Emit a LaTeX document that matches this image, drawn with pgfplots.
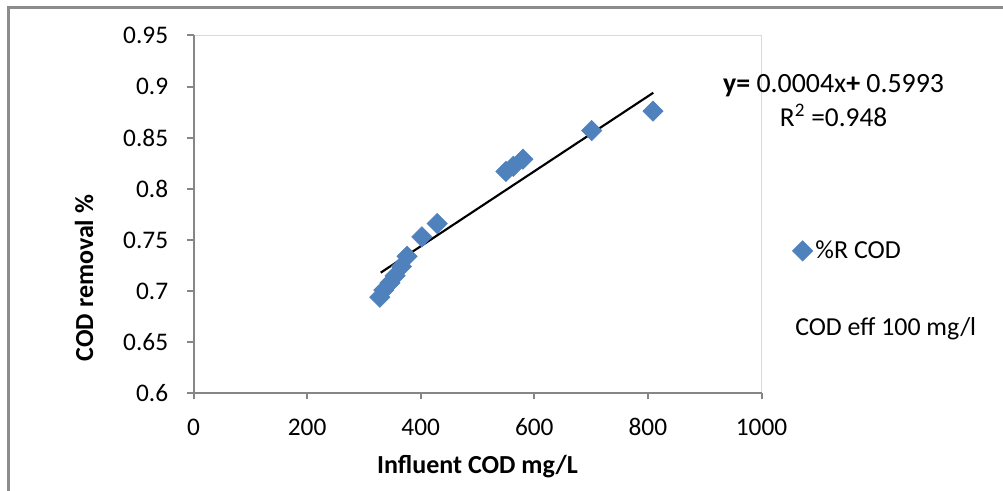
\documentclass[border=0pt]{standalone}
\usepackage{fontspec}
\setmainfont{Carlito}
\usepackage{pgfplots}
\pgfplotsset{compat=1.18}
\definecolor{xlblue}{HTML}{4F81BD}
\definecolor{axgrey}{HTML}{868686}
\definecolor{boxgrey}{HTML}{D9D9D9}
\definecolor{framegrey}{HTML}{8C8C8C}
\begin{document}
\begin{tikzpicture}[x=0.75pt,y=0.75pt]
\useasboundingbox (0,0) rectangle (1003,491);
\draw[framegrey, line width=2.25pt] (8,-5) -- (8,483) -- (1010,483);
\begin{axis}[
  at={(145.125pt,73.275pt)}, anchor=south west,
  scale only axis, width=426pt, height=268.35pt,
  xmin=0, xmax=1000, ymin=0.6, ymax=0.95,
  xtick={0,200,400,600,800,1000},
  ytick={0.6,0.65,0.7,0.75,0.8,0.85,0.9,0.95},
  axis x line=bottom, axis y line=left,
  axis line style={axgrey, line width=1.5pt, -},
  axis background/.style={draw=boxgrey, line width=0.75pt},
  tick align=outside, major tick length=4.5pt,
  every tick/.style={axgrey, line width=1.5pt},
  /pgf/number format/assume math mode=true,
  /pgf/number format/1000 sep={},
  ticklabel style={font=\fontsize{19}{19}\selectfont, text=black},
  xticklabel style={yshift=-11pt},
  yticklabel style={xshift=-11pt},
  xlabel={\textbf{Influent COD mg/L}},
  ylabel={\textbf{COD removal \%}},
  label style={font=\fontsize{19.5}{19.5}\selectfont},
  xlabel style={at={(axis description cs:0.5,-0.206)}, anchor=center},
  ylabel style={at={(axis description cs:-0.1928,0.322)}, anchor=center},
  clip=false,
  legend style={at={(rel axis cs:1.054,0.398)}, anchor=west, draw=none, fill=none,
    font=\fontsize{19.5}{19.5}\selectfont, inner sep=0pt},
  legend cell align=left,
]
\addplot[only marks, mark=square*, mark size=5.4pt,
  mark options={rotate=45, fill=xlblue, draw=xlblue}] coordinates {
  (328,0.694) (335,0.701) (346,0.708) (355,0.715) (366,0.724) (376,0.734)
  (402,0.753) (429,0.766) (550,0.817) (563,0.822) (580,0.829) (701,0.857) (809,0.876)
};
\addlegendentry{\%R COD}
\addplot[black, line width=1.6pt, forget plot] coordinates {(329.6,0.718) (809.5,0.894)};
\node[font=\fontsize{20.9}{20.9}\selectfont] at (rel axis cs:1.127,0.859) {\textbf{y=} 0.0004x\textbf{+} 0.5993};
\node[font=\fontsize{20.5}{20.5}\selectfont] at (rel axis cs:1.127,0.778) {R\textsuperscript{2} =0.948};
\node[font=\fontsize{19.4}{19.4}\selectfont, anchor=west, inner sep=0pt] at (rel axis cs:1.059,0.18) {COD eff 100 mg/l};
\end{axis}
\end{tikzpicture}
\end{document}
